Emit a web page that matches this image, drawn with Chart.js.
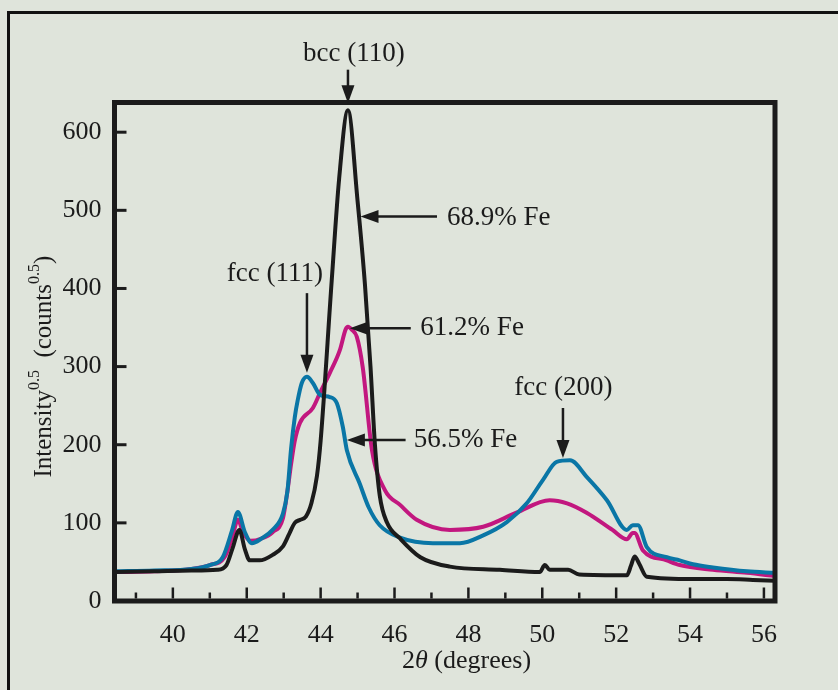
<!DOCTYPE html>
<html><head><meta charset="utf-8">
<script src="https://cdn.jsdelivr.net/npm/chart.js@4.4.1/dist/chart.umd.min.js"></script>
<style>html,body{margin:0;padding:0;background:#dfe4db;} canvas{display:block;}</style>
</head><body>
<canvas id="c" width="838" height="690"></canvas>
<script>
// ---- data (2θ in degrees, intensity^0.5) ----
const fe689X = [38.42,39.5,40.5,41.2,41.45,41.62,41.8,41.95,42.08,42.35,42.7,42.98,43.15,43.3,43.45,43.6,43.75,43.9,44.0,44.3,44.5,44.74,45.0,45.2,45.35,45.47,45.6,45.8,46.15,46.7,47.5,48.85,49.93,50.07,50.2,50.5,50.7,51.0,52.29,52.4,52.5,52.62,52.83,54.08,55.0,55.7,56.3];
const fe689Y = [37,38,39,40,46,68,91,66,52,52,59,70,86,100,104,108,125,160,205,410,540,628,512,405,300,200,135,100,80,56,44,40,37,46,40,40,40,34,33,45,57,48,31,28,28,27,26];

const fe612X = [38.42,39.5,40.5,41.0,41.4,41.6,41.76,41.9,42.1,42.4,42.7,42.98,43.1,43.2,43.3,43.44,43.79,43.98,44.25,44.52,44.68,44.74,44.85,44.98,45.14,45.39,45.74,46.15,46.6,47.5,48.4,49.3,50.2,50.67,51.2,51.9,52.29,52.45,52.5,52.72,53.37,53.72,54.62,55.54,56.3];
const fe612Y = [37,38,41,46,56,80,104,88,77,80,88,106,140,175,205,228,247,266,292,321,348,351,347,338,299,193,142,123,104,91,95,113,129,125,113,91,79,87,87,65,52,46,40,36,32];

const fe565X = [38.42,39.5,40.5,41.0,41.35,41.6,41.76,41.95,42.14,42.4,42.7,42.98,43.1,43.2,43.3,43.38,43.49,43.63,43.79,43.98,44.25,44.44,44.6,44.71,45.06,45.3,45.6,46.15,47.04,47.77,48.4,49.04,49.58,50.02,50.39,50.75,51.2,51.75,52.29,52.45,52.59,52.83,53.37,53.72,54.08,54.62,55.54,56.3];
const fe565Y = [38,39,41,46,56,90,114,88,74,80,91,112,140,195,235,257,279,287,279,264,261,253,223,193,150,120,97,81,74,74,84,101,125,155,178,180,159,129,91,97,97,69,56,52,47,43,38,36];

const seriesLabels = ['68.9% Fe', '61.2% Fe', '56.5% Fe'];
const peakLabels = ['bcc (110)', 'fcc (111)', 'fcc (200)'];
const xTickValues = [40,42,44,46,48,50,52,54,56];
const xMinorTickValues = [39,41,43,45,47,49,51,53,55];
const yTickValues = [0,100,200,300,400,500,600];

// ---- annotation layout (data coordinates) ----
const annotationLayout = [
  {text: peakLabels[0], tx: 44.9, ty: 700, align: 'center', a: [44.74, 680, 44.74, 637]},
  {text: seriesLabels[0], tx: 47.42, ty: 490, align: 'left', a: [47.15, 492, 45.08, 492]},
  {text: seriesLabels[1], tx: 46.7, ty: 350, align: 'left', a: [46.44, 349, 44.79, 349]},
  {text: peakLabels[1], tx: 42.76, ty: 418, align: 'center', a: [43.63, 394, 43.63, 292]},
  {text: seriesLabels[2], tx: 46.52, ty: 206, align: 'left', a: [46.3, 206, 44.71, 206]},
  {text: peakLabels[2], tx: 50.57, ty: 273, align: 'center', a: [50.56, 247, 50.56, 183]}
];

const BG = '#dfe4db';
const INK = '#1b1b1b';
const SERIF = '"Liberation Serif", "DejaVu Serif", serif';

function pts(xs, ys){ return xs.map((x,i)=>({x:x, y:ys[i]})); }

const decor = {
  id: 'decor',
  beforeDraw(chart){
    const c = chart.ctx;
    c.save(); c.fillStyle = BG; c.fillRect(0,0,chart.width,chart.height); c.restore();
  },
  afterDatasetsDraw(chart){
    const c = chart.ctx, ca = chart.chartArea;
    const xs = chart.scales.x, ys = chart.scales.y;
    c.save();
    // outer frame
    c.strokeStyle = '#111'; c.lineWidth = 3;
    c.strokeRect(8.5, 12.5, 1000, 1000);
    // ticks (inward)
    c.strokeStyle = INK; c.lineWidth = 2.5; c.lineCap = 'butt';
    const inner = ca.bottom - 2.5;
    xTickValues.forEach(v=>{ const p = xs.getPixelForValue(v); c.beginPath(); c.moveTo(p, inner); c.lineTo(p, inner-11); c.stroke(); });
    xMinorTickValues.forEach(v=>{ const p = xs.getPixelForValue(v); c.beginPath(); c.moveTo(p, inner); c.lineTo(p, inner-6); c.stroke(); });
    c.lineWidth = 3;
    yTickValues.forEach(v=>{ const p = ys.getPixelForValue(v); c.beginPath(); c.moveTo(ca.left+2.5, p); c.lineTo(ca.left+12, p); c.stroke(); });
    // plot frame
    c.lineWidth = 5; c.strokeStyle = INK;
    c.strokeRect(ca.left, ca.top, ca.right-ca.left, ca.bottom-ca.top);
    // annotations
    c.fillStyle = INK; c.strokeStyle = INK;
    c.font = '27px ' + SERIF; c.textBaseline = 'middle';
    annotationLayout.forEach(an=>{
      c.textAlign = an.align;
      c.fillText(an.text, xs.getPixelForValue(an.tx), ys.getPixelForValue(an.ty));
      const x1 = xs.getPixelForValue(an.a[0]), y1 = ys.getPixelForValue(an.a[1]);
      const x2 = xs.getPixelForValue(an.a[2]), y2 = ys.getPixelForValue(an.a[3]);
      const ang = Math.atan2(y2-y1, x2-x1), L = 18, W = 6.5;
      c.lineWidth = 2.5;
      c.beginPath(); c.moveTo(x1,y1); c.lineTo(x2 - Math.cos(ang)*L*0.8, y2 - Math.sin(ang)*L*0.8); c.stroke();
      c.beginPath();
      c.moveTo(x2,y2);
      c.lineTo(x2 - Math.cos(ang)*L - Math.sin(ang)*W, y2 - Math.sin(ang)*L + Math.cos(ang)*W);
      c.lineTo(x2 - Math.cos(ang)*L + Math.sin(ang)*W, y2 - Math.sin(ang)*L - Math.cos(ang)*W);
      c.closePath(); c.fill();
    });
    // x axis title: 2θ (degrees)
    const tx = xs.getPixelForValue(47.95), ty = 661;
    const parts = [['2','26px '+SERIF],['θ','italic 26px '+SERIF],[' (degrees)','26px '+SERIF]];
    let total = 0; parts.forEach(p=>{ c.font = p[1]; total += c.measureText(p[0]).width; });
    let cx = tx - total/2; c.textAlign = 'left';
    parts.forEach(p=>{ c.font = p[1]; c.fillText(p[0], cx, ty); cx += c.measureText(p[0]).width; });
    // y axis title: Intensity^0.5 (counts^0.5)
    const yparts = [['Intensity',25,0],['0.5',16,-9],['  (counts',25,0],['0.5',16,-9],[')',25,0]];
    c.translate(44, ys.getPixelForValue(300)); c.rotate(-Math.PI/2);
    total = 0; yparts.forEach(p=>{ c.font = p[1]+'px '+SERIF; total += c.measureText(p[0]).width; });
    cx = -total/2;
    yparts.forEach(p=>{ c.font = p[1]+'px '+SERIF; c.fillText(p[0], cx, p[2]); cx += c.measureText(p[0]).width; });
    c.restore();
  }
};

const tickFont = {family: SERIF, size: 26};
new Chart(document.getElementById('c'), {
  type: 'line',
  data: {
    datasets: [
      {label: seriesLabels[0], data: pts(fe689X, fe689Y), borderColor: '#1b1b1b'},
      {label: seriesLabels[2], data: pts(fe565X, fe565Y), borderColor: '#0a76a6'},
      {label: seriesLabels[1], data: pts(fe612X, fe612Y), borderColor: '#c2177f'}
    ]
  },
  options: {
    responsive: false, animation: false, devicePixelRatio: 1,
    layout: {padding: {left: 0, right: 63, top: 102.5, bottom: 0}},
    elements: {
      point: {radius: 0},
      line: {borderWidth: 4, cubicInterpolationMode: 'monotone', borderJoinStyle: 'round', borderCapStyle: 'round', fill: false}
    },
    plugins: {legend: {display: false}, tooltip: {enabled: false}},
    scales: {
      x: {
        type: 'linear', min: 38.42, max: 56.3,
        grid: {display: false, drawTicks: false}, border: {display: false},
        afterBuildTicks: s => { s.ticks = xTickValues.map(v=>({value: v})); },
        afterFit: s => { s.height = 89; },
        ticks: {font: tickFont, color: INK, padding: 19, maxRotation: 0, autoSkip: false}
      },
      y: {
        type: 'linear', min: 0, max: 638,
        grid: {display: false, drawTicks: false}, border: {display: false},
        afterBuildTicks: s => { s.ticks = yTickValues.map(v=>({value: v})); },
        afterFit: s => { s.width = 114.5; },
        ticks: {font: tickFont, color: INK, padding: 13, autoSkip: false}
      }
    }
  },
  plugins: [decor]
});
</script>
</body></html>
